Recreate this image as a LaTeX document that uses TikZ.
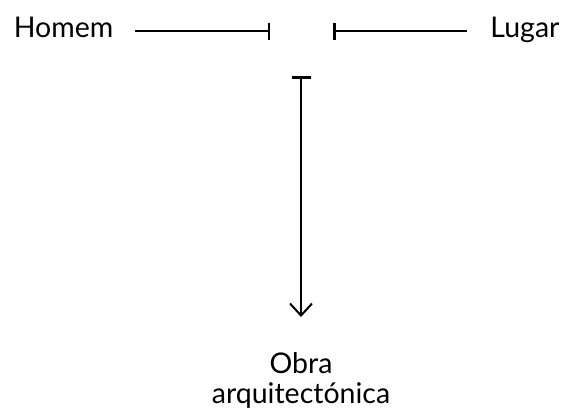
\documentclass[tikz,border=0pt]{standalone}
\usepackage{fontspec}
\setmainfont{Lato}
\usetikzlibrary{arrows.meta}
\begin{document}
\begin{tikzpicture}[x=1pt,y=-1pt,
  lbl/.style={font=\fontsize{28.5}{30}\selectfont, inner sep=0pt, anchor=base, align=center},
  conn/.style={line width=2pt, draw=black},
]
\useasboundingbox (0,0) rectangle (567,418);
\node[lbl] (homem) at (63.5,37) {Homem};
\node[lbl] (lugar) at (525,37) {Lugar};
\node[lbl] (obra) at (301,373) {Obra};
\node[lbl] (arq) at (301,403) {arquitectónica};
\coordinate (hbar) at (270,31);
\coordinate (lbar) at (333,31);
\coordinate (vbar) at (301,76);
\coordinate (vtip) at (301,317);
\coordinate (hstart) at (135,31);
\coordinate (lend) at (467,31);
\draw[conn, -{Bar[width=17pt,line width=2.5pt]}] (hstart) -- (hbar);
\draw[conn, {Bar[width=17pt,line width=2.5pt]}-] (lbar) -- (lend);
\draw[conn, {Bar[width=19pt,line width=2.5pt]}-{Straight Barb[length=12pt,width=22pt]}] (vbar) -- (vtip);
\end{tikzpicture}
\end{document}
